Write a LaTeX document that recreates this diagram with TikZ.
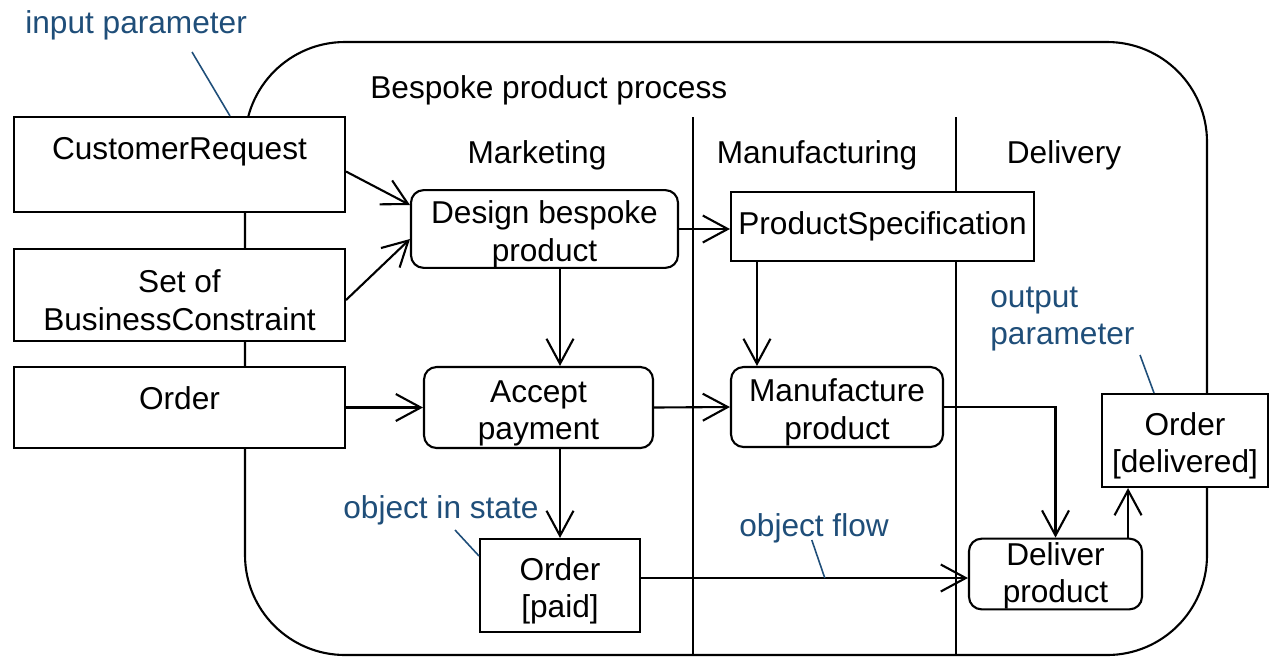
\documentclass[tikz,border=0pt]{standalone}
\usepackage{fontspec}
\setmainfont{Liberation Sans}
\usetikzlibrary{arrows.meta}
\definecolor{noteblue}{RGB}{31,78,121}
\newcommand{\dfont}{\fontsize{18}{21.5}\selectfont}
\newcommand{\firstline}[1][19pt]{\rule{0pt}{#1}}
\tikzset{
  obj/.style={draw, fill=white, line width=1.2pt, inner sep=0pt, align=center, font=\dfont},
  act/.style={obj, rounded corners=0.25cm},
  flow/.style={line width=1.2pt, -{Straight Barb[length=0.5cm,width=0.54cm]}},
  note/.style={noteblue, line width=0.9pt},
  notetext/.style={text=noteblue, font=\dfont, inner sep=0pt},
  lanetext/.style={font=\dfont, inner sep=0pt}
}
\begin{document}
\begin{tikzpicture}[x=0.02cm, y=-0.02cm]
\useasboundingbox (0,0) rectangle (1270,657);
% frame and partitions
\draw[line width=1.2pt, rounded corners=2cm] (245,42) rectangle (1207,655);
\draw[line width=1.2pt] (693,117) -- (693,655);
\draw[line width=1.2pt] (956,117) -- (956,655);
\node[lanetext, anchor=base west] (title) at (370,98) {Bespoke product process};
\node[lanetext, anchor=base] (mkt) at (537,163) {Marketing};
\node[lanetext, anchor=base] (mfg) at (817,163) {Manufacturing};
\node[lanetext, anchor=base] (dlv) at (1064,163) {Delivery};
% parameters
\node[obj, minimum width=6.62cm, minimum height=1.9cm, text height=13pt, text depth=19pt] (cr) at (179.5,164.5) {CustomerRequest};
\node[obj, minimum width=6.62cm, minimum height=1.84cm] (bc) at (179.5,295) {\firstline Set of\\BusinessConstraint};
\node[obj, minimum width=6.62cm, minimum height=1.62cm, text height=13pt, text depth=11pt] (ord) at (179.5,407.5) {Order};
\node[obj, minimum width=3.32cm, minimum height=1.86cm] (delivered) at (1185,440.5) {\firstline Order\\{}[delivered]};
% actions and objects
\node[act, minimum width=5.34cm, minimum height=1.52cm] (design) at (544.5,229) {\firstline Design bespoke\\product};
\node[act, minimum width=4.58cm, minimum height=1.62cm] (accept) at (538.5,407.5) {\firstline Accept\\payment};
\node[obj, minimum width=6.06cm, minimum height=1.38cm] (spec) at (882.5,226.5) {ProductSpecification};
\node[act, minimum width=4.24cm, minimum height=1.6cm] (manuf) at (837,407) {\firstline Manufacture\\product};
\node[obj, minimum width=3.2cm, minimum height=1.86cm] (paid) at (560,585.5) {\firstline Order\\{}[paid]};
\node[act, minimum width=3.46cm, minimum height=1.4cm] (deliver) at (1055.5,574) {\firstline[15pt]Deliver\\product};
% flows
\draw[flow] ([yshift=-0.14cm]cr.east) -- ([yshift=0.48cm]design.west);
\draw[flow] ([yshift=-0.1cm]bc.east) -- ([yshift=-0.2cm]design.west);
\draw[flow] (design.east) -- (design.east -| spec.west);
\draw[flow] (paid.north |- design.south) -- (paid.north |- accept.north);
\draw[flow] ([xshift=0.54cm]spec.south west) -- ([xshift=0.54cm]spec.south west |- manuf.north);
\draw[flow] (ord.east) -- (accept.west);
\draw[flow] (accept.east) -- (manuf.west);
\draw[flow] (paid.north |- accept.south) -- (paid.north);
\draw[flow] (manuf.east) -| (deliver.north);
\draw[flow] ([yshift=-0.08cm]paid.east |- deliver.west) -- ([yshift=-0.08cm]deliver.west) coordinate[pos=0.562] (fl);
\draw[flow] ([xshift=-0.3cm]deliver.north east) -- ([xshift=-0.3cm]deliver.north east |- delivered.south);
% notes
\node[notetext, anchor=base west] (inp) at (25,33) {input parameter};
\draw[note] (192,52) -- ([xshift=1.01cm]cr.north);
\node[notetext, anchor=west, align=left] (outp) at (990,319) {output\\parameter};
\draw[note] (1140,355) -- ([xshift=-0.62cm]delivered.north);
\node[notetext, anchor=base west] (state) at (343,518) {object in state};
\draw[note] (455,530) -- ([yshift=-0.36cm]paid.north west);
\node[notetext, anchor=base west] (oflow) at (739,536) {object flow};
\draw[note] ([shift={(-0.26cm,0.76cm)}]fl) -- (fl);
\end{tikzpicture}
\end{document}
